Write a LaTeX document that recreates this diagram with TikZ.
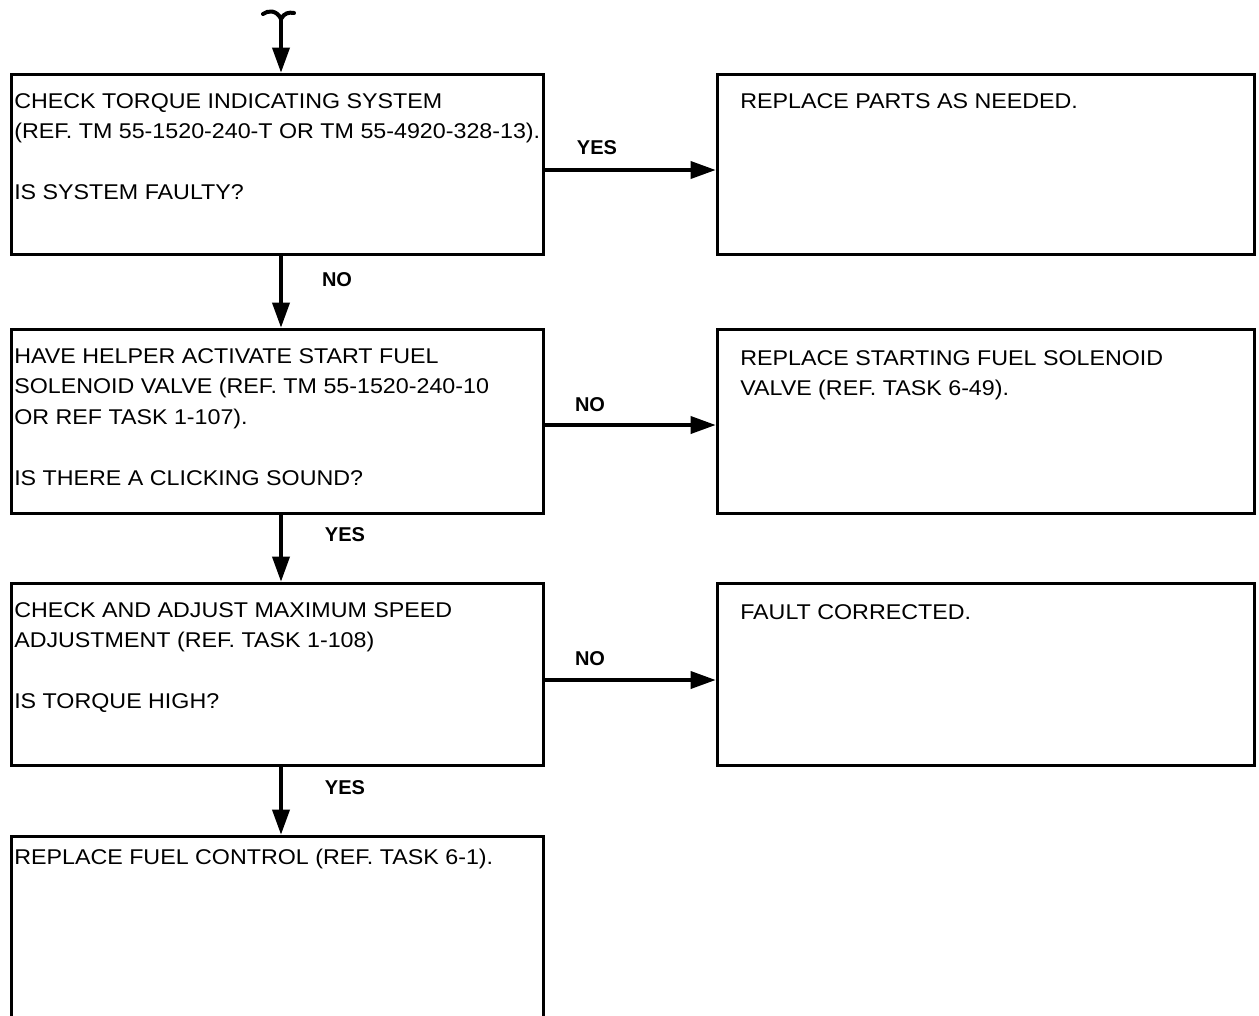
\documentclass[tikz,border=0pt]{standalone}
\usepackage{fontspec}
\setmainfont{Liberation Sans}
\newfontfamily\boxfont[FakeStretch=1.09]{Liberation Sans}
\usetikzlibrary{arrows.meta,calc}
\begin{document}
\begin{tikzpicture}[x=0.75pt,y=-0.75pt,
  box/.style={draw, line width=2.6pt, inner sep=0pt, anchor=north west},
  lbox/.style={box, minimum width=399pt},
  rbox/.style={box, minimum width=402.75pt},
  txt/.style={anchor=north west, inner sep=0pt, align=left, font=\boxfont\fontsize{16}{22.9}\selectfont},
  lab/.style={inner sep=0pt, font=\fontsize{15}{18}\selectfont\bfseries},
  arr/.style={line width=3.4pt, -{Triangle[length=19pt,width=12.5pt]}}]
\useasboundingbox (0,0) rectangle (1259,1015);
\clip (0,0) rectangle (1259,1015);
% boxes
\node[lbox, minimum height=135pt] (b1) at (10,73) {};
\node[lbox, minimum height=138pt] (b2) at (10,328) {};
\node[lbox, minimum height=136.5pt] (b3) at (10,582) {};
\node[lbox, minimum height=157.5pt] (b4) at (10,835) {};
\node[rbox, minimum height=135pt] (r1) at (716,73) {};
\node[rbox, minimum height=138pt] (r2) at (716,328) {};
\node[rbox, minimum height=136.5pt] (r3) at (716,582) {};
% texts
\node[txt] (t1) at ($(b1.north west)+(4,20)$) {CHECK TORQUE INDICATING SYSTEM\\(REF. TM 55-1520-240-T OR TM 55-4920-328-13).\\[22.9pt]IS SYSTEM FAULTY?};
\node[txt] (t2) at ($(b2.north west)+(4,20)$) {HAVE HELPER ACTIVATE START FUEL\\SOLENOID VALVE (REF. TM 55-1520-240-10\\OR REF TASK 1-107).\\[22.9pt]IS THERE A CLICKING SOUND?};
\node[txt] (t3) at ($(b3.north west)+(4,20)$) {CHECK AND ADJUST MAXIMUM SPEED\\ADJUSTMENT (REF. TASK 1-108)\\[22.9pt]IS TORQUE HIGH?};
\node[txt] (t4) at ($(b4.north west)+(4,14)$) {REPLACE FUEL CONTROL (REF. TASK 6-1).};
\node[txt] (u1) at ($(r1.north west)+(24,20)$) {REPLACE PARTS AS NEEDED.};
\node[txt] (u2) at ($(r2.north west)+(24,22)$) {REPLACE STARTING FUEL SOLENOID\\VALVE (REF. TASK 6-49).};
\node[txt] (u3) at ($(r3.north west)+(24,22)$) {FAULT CORRECTED.};
% start curl
\coordinate (start) at (281,19);
\draw[line width=3pt, line cap=round] (263,14) .. controls (268,10) and (277,10) .. (start) .. controls (284,13) and (289,12) .. (294,13);
\draw[arr] (start) -- (start |- b1.north);
% vertical connectors
\draw[arr] ($(b1.south west)+(271,0)$) -- ($(b2.north west)+(271,0)$);
\draw[arr] ($(b2.south west)+(271,0)$) -- ($(b3.north west)+(271,0)$);
\draw[arr] ($(b3.south west)+(271,0)$) -- ($(b4.north west)+(271,0)$);
% horizontal connectors
\draw[arr] ($(b1.north east)+(0,97)$) -- ($(r1.north west)+(0,97)$);
\draw[arr] ($(b2.north east)+(0,97)$) -- ($(r2.north west)+(0,97)$);
\draw[arr] ($(b3.north east)+(0,98)$) -- ($(r3.north west)+(0,98)$);
% labels
\node[lab] (l1) at (597,148) {YES};
\node[lab] (l2) at (590,405) {NO};
\node[lab] (l3) at (590,659) {NO};
\node[lab] (l4) at (337,280) {NO};
\node[lab] (l5) at (345,535) {YES};
\node[lab] (l6) at (345,788) {YES};
\end{tikzpicture}
\end{document}
